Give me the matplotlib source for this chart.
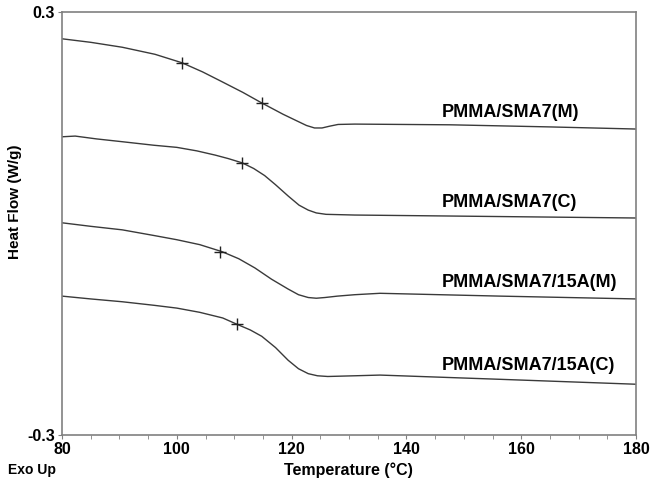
import matplotlib.pyplot as plt

# DSC curves (temperature in degC, heat flow in W/g)
t_m = [80, 85, 90.5, 96.2, 100.9, 104.5, 107.9, 111.5, 114.8, 118.5, 120.8, 122.6, 124.0, 125.3, 126.6, 128.1,
       131, 147.6, 165, 180]
hf_m = [0.262, 0.257, 0.250, 0.240, 0.228, 0.215, 0.201, 0.186, 0.171, 0.155, 0.146, 0.139, 0.1355, 0.1355,
        0.138, 0.1405, 0.141, 0.140, 0.137, 0.134]

t_c = [80, 82.3, 86, 90.5, 96, 100, 103.5, 106.7, 109, 111.4, 113.4, 115.3, 117.2, 119.4, 121.3, 122.9,
       124.3, 126, 131, 147.6, 180]
hf_c = [0.123, 0.124, 0.120, 0.116, 0.111, 0.108, 0.103, 0.097, 0.092, 0.086, 0.078, 0.068, 0.055, 0.039,
        0.026, 0.019, 0.015, 0.013, 0.012, 0.0106, 0.0078]

t_15m = [80, 85, 90.5, 96, 100, 104, 107.9, 110.8, 113.6, 116.5, 119.4, 121.2, 122.9, 124.3, 125.8, 128,
         131, 135.4, 156.3, 180]
hf_15m = [0.001, -0.004, -0.009, -0.017, -0.023, -0.030, -0.040, -0.050, -0.063, -0.079, -0.093, -0.101,
          -0.105, -0.106, -0.105, -0.103, -0.101, -0.099, -0.103, -0.107]

t_15c = [80, 85, 90.5, 96, 100, 104, 108, 110.5, 112.8, 114.8, 117.2, 119.4, 121.2, 122.9, 124.5, 126.3,
         131, 135.4, 156.3, 180]
hf_15c = [-0.103, -0.107, -0.111, -0.116, -0.120, -0.126, -0.134, -0.143, -0.151, -0.160, -0.176, -0.194,
          -0.206, -0.213, -0.216, -0.217, -0.216, -0.215, -0.221, -0.228]

# transition markers (+)
mk_t = [100.9, 114.8, 111.4, 107.6, 110.5]
mk_hf = [0.228, 0.171, 0.086, -0.040, -0.143]

labels = ['PMMA/SMA7(M)', 'PMMA/SMA7(C)', 'PMMA/SMA7/15A(M)', 'PMMA/SMA7/15A(C)']
label_t = 146.2
label_hf = [0.158, 0.030, -0.083, -0.201]

fig = plt.figure(figsize=(6.5, 4.83), dpi=100)
ax = fig.add_axes([62 / 650, 48 / 483, 574 / 650, 423 / 483])

line_col = '#3a3a3a'
for t, hf in [(t_m, hf_m), (t_c, hf_c), (t_15m, hf_15m), (t_15c, hf_15c)]:
    ax.plot(t, hf, color=line_col, lw=1.0)
ax.plot(mk_t, mk_hf, '+', color='#222222', ms=9, mew=1.0)

for lab, y in zip(labels, label_hf):
    ax.text(label_t, y, lab, fontsize=13, fontweight='bold',
            family='Liberation Sans', va='center', ha='left')

ax.set_xlim(80, 180)
ax.set_ylim(-0.3, 0.3)
ax.set_xticks([80, 100, 120, 140, 160, 180])
ax.set_xticks(range(85, 180, 5), minor=True)
ax.set_yticks([-0.3, 0.3])
ax.set_yticklabels(['-0.3', '0.3'])
ax.tick_params(axis='both', which='both', direction='out', length=3,
               color='#808080', labelsize=11.5, pad=2)
for lab in ax.get_xticklabels() + ax.get_yticklabels():
    lab.set_fontweight('bold')
    lab.set_family('Liberation Sans')
for s in ax.spines.values():
    s.set_color('#808080')
    s.set_linewidth(1.2)

fig.text(348 / 650, 1 - 470 / 483, 'Temperature (°C)', ha='center', va='center',
         fontsize=11.5, fontweight='bold', family='Liberation Sans')
fig.text(8 / 650, 1 - 470 / 483, 'Exo Up', ha='left', va='center',
         fontsize=10, fontweight='bold', family='Liberation Sans')
fig.text(15 / 650, 1 - 202 / 483, 'Heat Flow (W/g)', ha='center', va='center',
         rotation=90, fontsize=11, fontweight='bold', family='Liberation Sans')

fig.savefig('out.png', dpi=100)
